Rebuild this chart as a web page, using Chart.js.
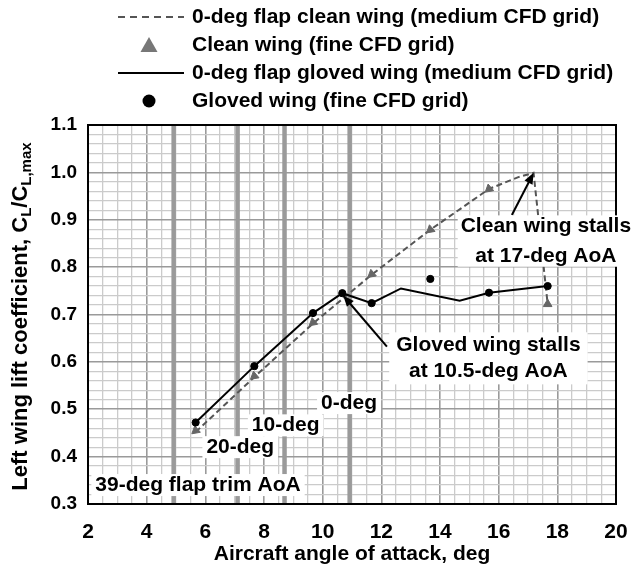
<!DOCTYPE html>
<html><head><meta charset="utf-8">
<script src="https://cdn.jsdelivr.net/npm/chart.js@4.4.1/dist/chart.umd.min.js"></script>
<style>html,body{margin:0;padding:0;background:#fff;}canvas{display:block;}</style>
</head><body>
<canvas id="c" width="633" height="567"></canvas>
<script>
// ---------- data ----------
const cleanMediumAoA = [5.67, 7.67, 9.67, 11.67, 13.67, 15.67, 16.67, 17.19, 17.67];
const cleanMediumCL  = [0.452, 0.568, 0.681, 0.784, 0.879, 0.965, 0.990, 0.999, 0.722];
const cleanFineAoA   = [5.67, 7.67, 9.67, 11.67, 13.67, 15.67, 17.67];
const cleanFineCL    = [0.455, 0.570, 0.683, 0.785, 0.879, 0.965, 0.722];
const glovedMediumAoA = [5.67, 7.67, 9.67, 10.67, 11.67, 12.67, 14.67, 15.67, 17.67];
const glovedMediumCL  = [0.472, 0.591, 0.703, 0.745, 0.724, 0.755, 0.729, 0.746, 0.760];
const glovedFineAoA   = [5.67, 7.67, 9.67, 10.67, 11.67, 13.67, 15.67, 17.67];
const glovedFineCL    = [0.472, 0.591, 0.703, 0.745, 0.724, 0.775, 0.746, 0.760];
const flapTrimAoA    = [4.92, 7.1, 8.7, 10.92];
const flapTrimLabels = ['39-deg flap trim AoA', '20-deg', '10-deg', '0-deg'];
const seriesLabels = [
  '0-deg flap clean wing (medium CFD grid)',
  'Clean wing (fine CFD grid)',
  '0-deg flap gloved wing (medium CFD grid)',
  'Gloved wing (fine CFD grid)'
];
const xTickLabels = [2, 4, 6, 8, 10, 12, 14, 16, 18, 20];
const yTickLabels = [0.3, 0.4, 0.5, 0.6, 0.7, 0.8, 0.9, 1.0, 1.1];
const stallNotes = [
  {lines: ['Clean wing stalls', 'at 17-deg AoA'], at: [17.61, 0.886, 0.824], from: [16.45, 0.910], to: [17.19, 0.999]},
  {lines: ['Gloved wing stalls', 'at 10.5-deg AoA'], at: [15.65, 0.635, 0.580], from: [12.19, 0.632], to: [10.70, 0.740]}
];
// positions of the flap-trim labels (data units)
const flapLabelPos = [[2.25, 0.340, 'left'], [7.19, 0.420, 'center'], [8.74, 0.466, 'center'], [10.9, 0.513, 'center']];

const pts = (xs, ys) => xs.map((v, i) => ({x: v, y: ys[i]}));
const FONT = '"Liberation Sans", Arial, Helvetica, sans-serif';

function isMajorX(v) { return Math.abs(v - Math.round(v)) < 1e-6 && xTickLabels.includes(Math.round(v)); }
function isMajorY(v) { const r = Math.round(v * 100); return Math.abs(v * 100 - r) < 1e-4 && r % 10 === 0; }

function arrow(ctx, x1, y1, x2, y2) {
  const ang = Math.atan2(y2 - y1, x2 - x1), L = 11, W = 4.5;
  ctx.beginPath(); ctx.moveTo(x1, y1);
  ctx.lineTo(x2 - Math.cos(ang) * L * 0.8, y2 - Math.sin(ang) * L * 0.8); ctx.stroke();
  ctx.beginPath(); ctx.moveTo(x2, y2);
  ctx.lineTo(x2 - Math.cos(ang) * L - Math.sin(ang) * W, y2 - Math.sin(ang) * L + Math.cos(ang) * W);
  ctx.lineTo(x2 - Math.cos(ang) * L + Math.sin(ang) * W, y2 - Math.sin(ang) * L - Math.cos(ang) * W);
  ctx.closePath(); ctx.fill();
}

function textBox(ctx, lines, x, ys, align, padX, padY) {
  ctx.font = 'bold 21px ' + FONT;
  const widths = lines.map(t => ctx.measureText(t).width);
  const maxW = Math.max(...widths);
  let left = align === 'left' ? x : x - maxW / 2;
  ctx.fillStyle = '#fff';
  ctx.fillRect(left - padX, ys[0] - padY, maxW + 2 * padX, ys[ys.length - 1] - ys[0] + 2 * padY);
  ctx.fillStyle = '#000'; ctx.textBaseline = 'middle'; ctx.textAlign = align;
  lines.forEach((t, i) => ctx.fillText(t, x, ys[i]));
}

const overlay = {
  id: 'overlay',
  beforeDatasetsDraw(chart) {
    const {ctx, chartArea: a, scales: {x}} = chart;
    ctx.save();
    ctx.strokeStyle = '#9a9a9a'; ctx.lineWidth = 4.5;
    flapTrimAoA.forEach(v => {
      const px = x.getPixelForValue(v);
      ctx.beginPath(); ctx.moveTo(px, a.top); ctx.lineTo(px, a.bottom); ctx.stroke();
    });
    ctx.restore();
  },
  afterDatasetsDraw(chart) {
    const {ctx, chartArea: a, scales: {x, y}} = chart;
    ctx.save();
    ctx.strokeStyle = '#000'; ctx.lineWidth = 2;
    ctx.strokeRect(a.left, a.top, a.right - a.left, a.bottom - a.top);
    ctx.strokeStyle = '#000'; ctx.fillStyle = '#000'; ctx.lineWidth = 2;
    stallNotes.forEach(n => arrow(ctx, x.getPixelForValue(n.from[0]), y.getPixelForValue(n.from[1]),
                                       x.getPixelForValue(n.to[0]), y.getPixelForValue(n.to[1])));
    stallNotes.forEach((n, i) => textBox(ctx, n.lines, x.getPixelForValue(n.at[0]),
      [y.getPixelForValue(n.at[1]), y.getPixelForValue(n.at[2])], 'center', i === 0 ? 3 : 7, i === 0 ? 11 : 13));
    flapTrimLabels.forEach((t, i) => {
      const p = flapLabelPos[i];
      textBox(ctx, [t], x.getPixelForValue(p[0]), [y.getPixelForValue(p[1])], p[2], 4, 11);
    });
    ctx.restore();
  },
  afterDraw(chart) {
    const {ctx, chartArea: a} = chart;
    ctx.save();
    const rows = [17, 45, 73, 101];
    ctx.font = 'bold 21px ' + FONT; ctx.textBaseline = 'middle'; ctx.textAlign = 'left'; ctx.fillStyle = '#000';
    seriesLabels.forEach((t, i) => ctx.fillText(t, 192, rows[i]));
    ctx.lineWidth = 2;
    ctx.strokeStyle = '#555'; ctx.setLineDash([7, 5]);
    ctx.beginPath(); ctx.moveTo(118, rows[0]); ctx.lineTo(184, rows[0]); ctx.stroke();
    ctx.setLineDash([]);
    ctx.strokeStyle = '#000';
    ctx.beginPath(); ctx.moveTo(118, rows[2]); ctx.lineTo(184, rows[2]); ctx.stroke();
    ctx.fillStyle = '#777';
    ctx.beginPath(); ctx.moveTo(149, rows[1] - 8); ctx.lineTo(157.5, rows[1] + 7); ctx.lineTo(140.5, rows[1] + 7); ctx.closePath(); ctx.fill();
    ctx.fillStyle = '#000';
    ctx.beginPath(); ctx.arc(149, rows[3], 6.5, 0, Math.PI * 2); ctx.fill();
    const parts = [['Left wing lift coefficient, C', 0], ['L', 1], ['/C', 0], ['L,max', 1]];
    const big = 'bold 22px ' + FONT, small = 'bold 15px ' + FONT;
    let total = 0;
    parts.forEach(p => { ctx.font = p[1] ? small : big; total += ctx.measureText(p[0]).width; });
    ctx.translate(21, (a.top + a.bottom) / 2 + 2);
    ctx.rotate(-Math.PI / 2);
    let cx = -total / 2;
    ctx.fillStyle = '#000'; ctx.textAlign = 'left'; ctx.textBaseline = 'middle';
    parts.forEach(p => {
      ctx.font = p[1] ? small : big;
      ctx.fillText(p[0], cx, p[1] ? 6 : 0);
      cx += ctx.measureText(p[0]).width;
    });
    ctx.restore();
  }
};

new Chart(document.getElementById('c'), {
  type: 'scatter',
  data: {
    datasets: [
      {label: seriesLabels[0], data: pts(cleanMediumAoA, cleanMediumCL), showLine: true,
       borderColor: '#555', borderWidth: 2, borderDash: [6, 3.5], pointRadius: 0, order: 3},
      {label: seriesLabels[1], data: pts(cleanFineAoA, cleanFineCL), showLine: false,
       pointStyle: 'triangle', pointRadius: 5, backgroundColor: '#666', borderColor: '#666', borderWidth: 1,
       rotation: c => (c.dataIndex === cleanFineAoA.length - 1 ? 0 : 230), order: 2},
      {label: seriesLabels[2], data: pts(glovedMediumAoA, glovedMediumCL), showLine: true,
       borderColor: '#000', borderWidth: 2, pointRadius: 0, order: 1},
      {label: seriesLabels[3], data: pts(glovedFineAoA, glovedFineCL), showLine: false,
       pointStyle: 'circle', pointRadius: 3.6, backgroundColor: '#000', borderColor: '#000', order: 0}
    ]
  },
  options: {
    responsive: false, animation: false, devicePixelRatio: 1,
    layout: {padding: {left: 0, top: 125, right: 17, bottom: 0}},
    plugins: {legend: {display: false}, tooltip: {enabled: false}},
    scales: {
      x: {
        type: 'linear', min: 2, max: 20,
        afterFit: s => { s.height = 63; s.paddingLeft = 0; s.paddingRight = 0; },
        border: {display: false},
        grid: {drawTicks: false,
               color: c => (isMajorX(c.tick.value) ? '#9a9a9a' : '#cbcbcb'),
               lineWidth: c => (isMajorX(c.tick.value) ? 1.6 : 1.3)},
        ticks: {stepSize: 0.5, autoSkip: false, maxRotation: 0, padding: 16, color: '#000',
                font: {family: FONT, size: 21, weight: 'bold'},
                callback: v => (isMajorX(v) ? String(Math.round(v)) : '')},
        title: {display: true, text: 'Aircraft angle of attack, deg', color: '#000',
                font: {family: FONT, size: 21, weight: 'bold'}, padding: {top: 0, bottom: 0}}
      },
      y: {
        type: 'linear', min: 0.3, max: 1.1,
        afterFit: s => { s.width = 88; s.paddingTop = 0; s.paddingBottom = 0; },
        border: {display: false},
        grid: {drawTicks: false,
               color: c => (isMajorY(c.tick.value) ? '#9a9a9a' : '#cbcbcb'),
               lineWidth: c => (isMajorY(c.tick.value) ? 1.6 : 1.3)},
        ticks: {stepSize: 0.02, autoSkip: false, padding: 11, color: '#000',
                font: {family: FONT, size: 19, weight: 'bold'},
                callback: v => (isMajorY(v) ? v.toFixed(1) : '')}
      }
    }
  },
  plugins: [overlay]
});
</script>
</body></html>
